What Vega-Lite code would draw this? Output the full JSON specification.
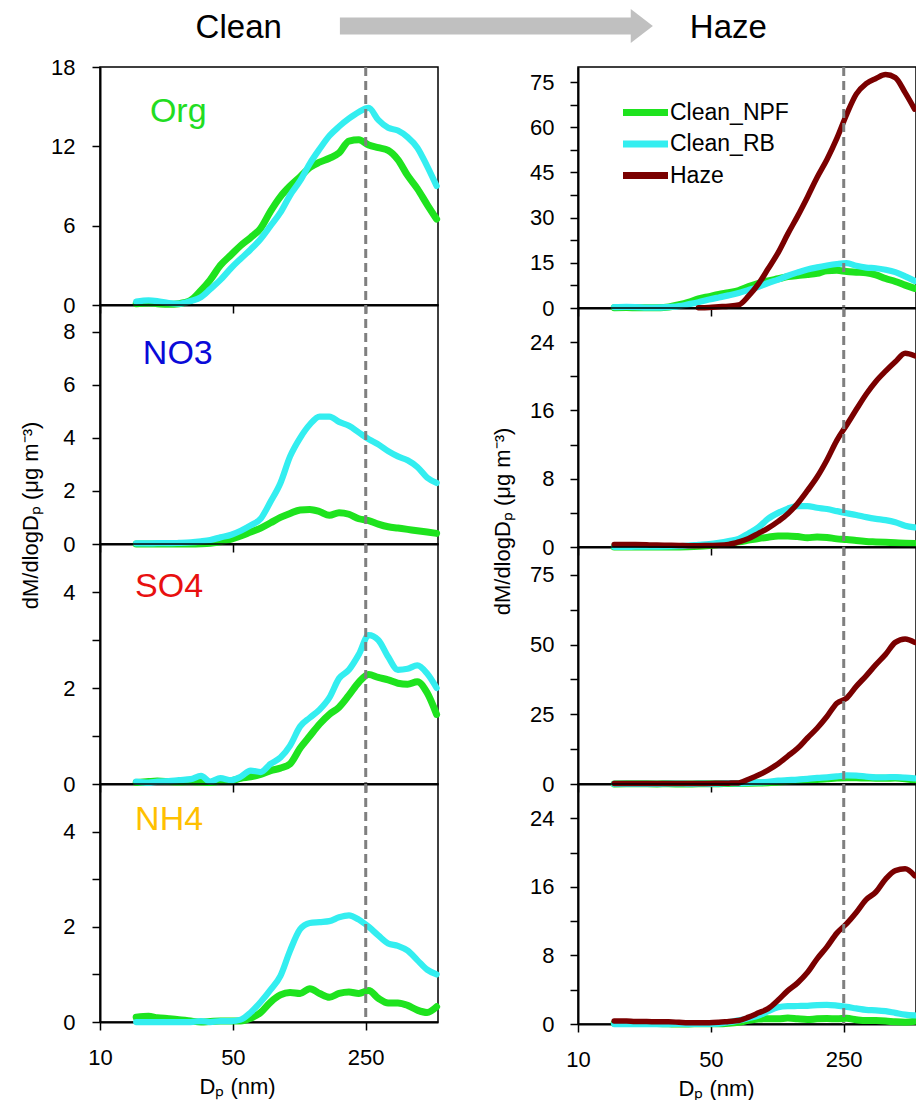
{
  "$schema": "https://vega.github.io/schema/vega-lite/v6.json",
  "padding": {"left": 18, "top": 0, "right": 0, "bottom": 0},
  "config": {
    "font": "Liberation Sans",
    "view": {"stroke": "black", "strokeWidth": 1.5},
    "axis": {"labelFont": "Liberation Sans", "labelFontSize": 22, "labelColor": "black", "labelFlush": false, "titleFont": "Liberation Sans", "titleFontSize": 22, "titleFontWeight": "normal", "titleColor": "black", "domainColor": "black", "domainWidth": 2, "tickColor": "black", "tickWidth": 1.5, "grid": false},
    "axisX": {"tickSize": 8, "labelPadding": 17, "titlePadding": 8},
    "axisY": {"tickSize": 8, "labelPadding": 17},
    "text": {"font": "Liberation Sans"}
  },
  "datasets": {
    "d": [
      {"s":"Org","Dp":15.5,"Clean_NPF":0.1,"Clean_RB":0.25,"Haze":null},
      {"s":"Org","Dp":18,"Clean_NPF":0.15,"Clean_RB":0.35,"Haze":null},
      {"s":"Org","Dp":20,"Clean_NPF":0.1,"Clean_RB":0.3,"Haze":null},
      {"s":"Org","Dp":23,"Clean_NPF":0.05,"Clean_RB":0.15,"Haze":null},
      {"s":"Org","Dp":26,"Clean_NPF":0.1,"Clean_RB":0.1,"Haze":null},
      {"s":"Org","Dp":30,"Clean_NPF":0.35,"Clean_RB":0.3,"Haze":null},
      {"s":"Org","Dp":34,"Clean_NPF":1.1,"Clean_RB":0.6,"Haze":null},
      {"s":"Org","Dp":38,"Clean_NPF":1.9,"Clean_RB":1.2,"Haze":null},
      {"s":"Org","Dp":43,"Clean_NPF":3.0,"Clean_RB":1.9,"Haze":0.1},
      {"s":"Org","Dp":49,"Clean_NPF":3.8,"Clean_RB":2.8,"Haze":0.2},
      {"s":"Org","Dp":55,"Clean_NPF":4.5,"Clean_RB":3.5,"Haze":0.4},
      {"s":"Org","Dp":62,"Clean_NPF":5.1,"Clean_RB":4.2,"Haze":0.6},
      {"s":"Org","Dp":70,"Clean_NPF":5.8,"Clean_RB":5.0,"Haze":1.0},
      {"s":"Org","Dp":79,"Clean_NPF":7.1,"Clean_RB":6.0,"Haze":4.0},
      {"s":"Org","Dp":89,"Clean_NPF":8.2,"Clean_RB":7.0,"Haze":8.0},
      {"s":"Org","Dp":100,"Clean_NPF":9.0,"Clean_RB":8.3,"Haze":13.0},
      {"s":"Org","Dp":113,"Clean_NPF":9.7,"Clean_RB":9.4,"Haze":18.4},
      {"s":"Org","Dp":127,"Clean_NPF":10.4,"Clean_RB":10.7,"Haze":24.6},
      {"s":"Org","Dp":143,"Clean_NPF":10.8,"Clean_RB":11.8,"Haze":30.5},
      {"s":"Org","Dp":161,"Clean_NPF":11.1,"Clean_RB":12.8,"Haze":36.8},
      {"s":"Org","Dp":181,"Clean_NPF":11.5,"Clean_RB":13.5,"Haze":43.3},
      {"s":"Org","Dp":204,"Clean_NPF":12.4,"Clean_RB":14.1,"Haze":49.3},
      {"s":"Org","Dp":230,"Clean_NPF":12.5,"Clean_RB":14.6,"Haze":56.3},
      {"s":"Org","Dp":259,"Clean_NPF":12.1,"Clean_RB":14.9,"Haze":64.3},
      {"s":"Org","Dp":291,"Clean_NPF":11.9,"Clean_RB":14.0,"Haze":71.0},
      {"s":"Org","Dp":328,"Clean_NPF":11.7,"Clean_RB":13.4,"Haze":74.5},
      {"s":"Org","Dp":369,"Clean_NPF":11.0,"Clean_RB":13.2,"Haze":76.2},
      {"s":"Org","Dp":415,"Clean_NPF":9.8,"Clean_RB":12.7,"Haze":77.5},
      {"s":"Org","Dp":467,"Clean_NPF":8.8,"Clean_RB":11.9,"Haze":76.5},
      {"s":"Org","Dp":526,"Clean_NPF":7.6,"Clean_RB":10.5,"Haze":71.5},
      {"s":"Org","Dp":590,"Clean_NPF":6.5,"Clean_RB":9.0,"Haze":66.0},

      {"s":"NO3","Dp":15.5,"Clean_NPF":0,"Clean_RB":0.02,"Haze":0.3},
      {"s":"NO3","Dp":18,"Clean_NPF":0,"Clean_RB":0.02,"Haze":0.3},
      {"s":"NO3","Dp":20,"Clean_NPF":0,"Clean_RB":0.03,"Haze":0.28},
      {"s":"NO3","Dp":23,"Clean_NPF":0,"Clean_RB":0.03,"Haze":0.25},
      {"s":"NO3","Dp":26,"Clean_NPF":0,"Clean_RB":0.04,"Haze":0.22},
      {"s":"NO3","Dp":30,"Clean_NPF":0,"Clean_RB":0.06,"Haze":0.2},
      {"s":"NO3","Dp":34,"Clean_NPF":0.01,"Clean_RB":0.1,"Haze":0.18},
      {"s":"NO3","Dp":38,"Clean_NPF":0.03,"Clean_RB":0.15,"Haze":0.15},
      {"s":"NO3","Dp":43,"Clean_NPF":0.08,"Clean_RB":0.25,"Haze":0.15},
      {"s":"NO3","Dp":49,"Clean_NPF":0.18,"Clean_RB":0.35,"Haze":0.18},
      {"s":"NO3","Dp":55,"Clean_NPF":0.3,"Clean_RB":0.5,"Haze":0.2},
      {"s":"NO3","Dp":62,"Clean_NPF":0.45,"Clean_RB":0.7,"Haze":0.3},
      {"s":"NO3","Dp":70,"Clean_NPF":0.6,"Clean_RB":0.95,"Haze":0.6},
      {"s":"NO3","Dp":79,"Clean_NPF":0.8,"Clean_RB":1.6,"Haze":1.0},
      {"s":"NO3","Dp":89,"Clean_NPF":1.0,"Clean_RB":2.3,"Haze":1.6},
      {"s":"NO3","Dp":100,"Clean_NPF":1.15,"Clean_RB":3.3,"Haze":2.2},
      {"s":"NO3","Dp":113,"Clean_NPF":1.28,"Clean_RB":4.0,"Haze":3.0},
      {"s":"NO3","Dp":127,"Clean_NPF":1.3,"Clean_RB":4.5,"Haze":3.9},
      {"s":"NO3","Dp":143,"Clean_NPF":1.22,"Clean_RB":4.8,"Haze":5.1},
      {"s":"NO3","Dp":161,"Clean_NPF":1.08,"Clean_RB":4.8,"Haze":6.6},
      {"s":"NO3","Dp":181,"Clean_NPF":1.18,"Clean_RB":4.6,"Haze":8.2},
      {"s":"NO3","Dp":204,"Clean_NPF":1.12,"Clean_RB":4.45,"Haze":10.2},
      {"s":"NO3","Dp":230,"Clean_NPF":0.95,"Clean_RB":4.2,"Haze":12.5},
      {"s":"NO3","Dp":259,"Clean_NPF":0.88,"Clean_RB":3.95,"Haze":14.3},
      {"s":"NO3","Dp":291,"Clean_NPF":0.75,"Clean_RB":3.75,"Haze":16.1},
      {"s":"NO3","Dp":328,"Clean_NPF":0.65,"Clean_RB":3.5,"Haze":17.9},
      {"s":"NO3","Dp":369,"Clean_NPF":0.6,"Clean_RB":3.3,"Haze":19.4},
      {"s":"NO3","Dp":415,"Clean_NPF":0.55,"Clean_RB":3.15,"Haze":20.6},
      {"s":"NO3","Dp":467,"Clean_NPF":0.5,"Clean_RB":2.9,"Haze":21.7},
      {"s":"NO3","Dp":526,"Clean_NPF":0.45,"Clean_RB":2.5,"Haze":22.7},
      {"s":"NO3","Dp":590,"Clean_NPF":0.4,"Clean_RB":2.3,"Haze":22.4},

      {"s":"SO4","Dp":15.5,"Clean_NPF":0.03,"Clean_RB":0.05,"Haze":0.2},
      {"s":"SO4","Dp":18,"Clean_NPF":0.05,"Clean_RB":0.03,"Haze":0.2},
      {"s":"SO4","Dp":20,"Clean_NPF":0.06,"Clean_RB":0.05,"Haze":0.2},
      {"s":"SO4","Dp":23,"Clean_NPF":0.05,"Clean_RB":0.06,"Haze":0.15},
      {"s":"SO4","Dp":26,"Clean_NPF":0.04,"Clean_RB":0.08,"Haze":0.15},
      {"s":"SO4","Dp":30,"Clean_NPF":0.05,"Clean_RB":0.1,"Haze":0.15},
      {"s":"SO4","Dp":34,"Clean_NPF":0.04,"Clean_RB":0.17,"Haze":0.15},
      {"s":"SO4","Dp":38,"Clean_NPF":0.03,"Clean_RB":0.05,"Haze":0.15},
      {"s":"SO4","Dp":43,"Clean_NPF":0.06,"Clean_RB":0.12,"Haze":0.2},
      {"s":"SO4","Dp":49,"Clean_NPF":0.07,"Clean_RB":0.08,"Haze":0.2},
      {"s":"SO4","Dp":55,"Clean_NPF":0.12,"Clean_RB":0.15,"Haze":0.25},
      {"s":"SO4","Dp":62,"Clean_NPF":0.15,"Clean_RB":0.28,"Haze":0.3},
      {"s":"SO4","Dp":70,"Clean_NPF":0.2,"Clean_RB":0.25,"Haze":0.4},
      {"s":"SO4","Dp":79,"Clean_NPF":0.28,"Clean_RB":0.42,"Haze":1.7},
      {"s":"SO4","Dp":89,"Clean_NPF":0.33,"Clean_RB":0.55,"Haze":3.2},
      {"s":"SO4","Dp":100,"Clean_NPF":0.42,"Clean_RB":0.8,"Haze":5.0},
      {"s":"SO4","Dp":113,"Clean_NPF":0.75,"Clean_RB":1.2,"Haze":7.3},
      {"s":"SO4","Dp":127,"Clean_NPF":1.0,"Clean_RB":1.38,"Haze":10.0},
      {"s":"SO4","Dp":143,"Clean_NPF":1.25,"Clean_RB":1.55,"Haze":12.8},
      {"s":"SO4","Dp":161,"Clean_NPF":1.45,"Clean_RB":1.8,"Haze":16.5},
      {"s":"SO4","Dp":181,"Clean_NPF":1.6,"Clean_RB":2.2,"Haze":20.0},
      {"s":"SO4","Dp":204,"Clean_NPF":1.85,"Clean_RB":2.38,"Haze":24.2},
      {"s":"SO4","Dp":230,"Clean_NPF":2.12,"Clean_RB":2.7,"Haze":29.0},
      {"s":"SO4","Dp":259,"Clean_NPF":2.28,"Clean_RB":3.1,"Haze":30.8},
      {"s":"SO4","Dp":291,"Clean_NPF":2.22,"Clean_RB":3.0,"Haze":35.0},
      {"s":"SO4","Dp":328,"Clean_NPF":2.17,"Clean_RB":2.65,"Haze":38.8},
      {"s":"SO4","Dp":369,"Clean_NPF":2.1,"Clean_RB":2.38,"Haze":42.8},
      {"s":"SO4","Dp":415,"Clean_NPF":2.08,"Clean_RB":2.4,"Haze":46.5},
      {"s":"SO4","Dp":467,"Clean_NPF":2.13,"Clean_RB":2.47,"Haze":50.8},
      {"s":"SO4","Dp":526,"Clean_NPF":1.9,"Clean_RB":2.3,"Haze":52.0},
      {"s":"SO4","Dp":590,"Clean_NPF":1.45,"Clean_RB":2.0,"Haze":50.8},

      {"s":"NH4","Dp":15.5,"Clean_NPF":0.1,"Clean_RB":0,"Haze":0.35},
      {"s":"NH4","Dp":18,"Clean_NPF":0.12,"Clean_RB":0,"Haze":0.35},
      {"s":"NH4","Dp":20,"Clean_NPF":0.09,"Clean_RB":0,"Haze":0.3},
      {"s":"NH4","Dp":23,"Clean_NPF":0.07,"Clean_RB":0,"Haze":0.3},
      {"s":"NH4","Dp":26,"Clean_NPF":0.05,"Clean_RB":0,"Haze":0.25},
      {"s":"NH4","Dp":30,"Clean_NPF":0.02,"Clean_RB":0,"Haze":0.25},
      {"s":"NH4","Dp":34,"Clean_NPF":0.0,"Clean_RB":0.02,"Haze":0.2},
      {"s":"NH4","Dp":38,"Clean_NPF":0.01,"Clean_RB":0,"Haze":0.15},
      {"s":"NH4","Dp":43,"Clean_NPF":0.02,"Clean_RB":0.02,"Haze":0.15},
      {"s":"NH4","Dp":49,"Clean_NPF":0.02,"Clean_RB":0.02,"Haze":0.15},
      {"s":"NH4","Dp":55,"Clean_NPF":0.02,"Clean_RB":0.05,"Haze":0.2},
      {"s":"NH4","Dp":62,"Clean_NPF":0.08,"Clean_RB":0.2,"Haze":0.3},
      {"s":"NH4","Dp":70,"Clean_NPF":0.2,"Clean_RB":0.42,"Haze":0.4},
      {"s":"NH4","Dp":79,"Clean_NPF":0.42,"Clean_RB":0.68,"Haze":0.8},
      {"s":"NH4","Dp":89,"Clean_NPF":0.57,"Clean_RB":0.97,"Haze":1.3},
      {"s":"NH4","Dp":100,"Clean_NPF":0.62,"Clean_RB":1.5,"Haze":1.8},
      {"s":"NH4","Dp":113,"Clean_NPF":0.6,"Clean_RB":1.95,"Haze":2.8},
      {"s":"NH4","Dp":127,"Clean_NPF":0.7,"Clean_RB":2.08,"Haze":3.9},
      {"s":"NH4","Dp":143,"Clean_NPF":0.6,"Clean_RB":2.1,"Haze":4.8},
      {"s":"NH4","Dp":161,"Clean_NPF":0.52,"Clean_RB":2.12,"Haze":6.0},
      {"s":"NH4","Dp":181,"Clean_NPF":0.6,"Clean_RB":2.2,"Haze":7.6},
      {"s":"NH4","Dp":204,"Clean_NPF":0.63,"Clean_RB":2.24,"Haze":9.0},
      {"s":"NH4","Dp":230,"Clean_NPF":0.6,"Clean_RB":2.15,"Haze":10.6},
      {"s":"NH4","Dp":259,"Clean_NPF":0.66,"Clean_RB":2.0,"Haze":11.7},
      {"s":"NH4","Dp":291,"Clean_NPF":0.5,"Clean_RB":1.82,"Haze":13.0},
      {"s":"NH4","Dp":328,"Clean_NPF":0.4,"Clean_RB":1.65,"Haze":14.5},
      {"s":"NH4","Dp":369,"Clean_NPF":0.4,"Clean_RB":1.6,"Haze":15.4},
      {"s":"NH4","Dp":415,"Clean_NPF":0.35,"Clean_RB":1.5,"Haze":16.9},
      {"s":"NH4","Dp":467,"Clean_NPF":0.25,"Clean_RB":1.3,"Haze":17.9},
      {"s":"NH4","Dp":526,"Clean_NPF":0.2,"Clean_RB":1.1,"Haze":18.1},
      {"s":"NH4","Dp":590,"Clean_NPF":0.32,"Clean_RB":1.0,"Haze":17.3}
    ]
  },
  "bounds": "flush",
  "spacing": 17,
  "resolve": {"legend": {"color": "independent"}},
  "vconcat": [
    {
      "width": 816, "height": 50,
      "view": {"stroke": null},
      "data": {"values": [{}]},
      "layer": [
        {"mark": {"type": "rule", "color": "#c0c0c0", "strokeWidth": 17, "strokeCap": "butt"},
         "encoding": {"x": {"datum": 0.294, "type": "quantitative", "scale": {"domain": [0, 1]}, "axis": null}, "x2": {"datum": 0.653}, "y": {"datum": 0.48, "type": "quantitative", "scale": {"domain": [0, 1]}, "axis": null}}},
        {"mark": {"type": "point", "shape": "M-0.65,-1L0.65,0L-0.65,1Z", "filled": true, "color": "#c0c0c0", "opacity": 1, "size": 1156},
         "encoding": {"x": {"datum": 0.664, "type": "quantitative"}, "y": {"datum": 0.48, "type": "quantitative"}}},
        {"mark": {"type": "text", "text": "Clean", "fontSize": 33, "align": "center", "baseline": "alphabetic", "color": "black"},
         "encoding": {"x": {"datum": 0.170, "type": "quantitative"}, "y": {"datum": 0.24, "type": "quantitative"}}},
        {"mark": {"type": "text", "text": "Haze", "fontSize": 33, "align": "center", "baseline": "alphabetic", "color": "black"},
         "encoding": {"x": {"datum": 0.770, "type": "quantitative"}, "y": {"datum": 0.24, "type": "quantitative"}}}
      ]
    },
    {
      "bounds": "full",
      "spacing": 49,
      "resolve": {"legend": {"color": "independent"}},
      "hconcat": [
        {
          "bounds": "flush",
          "spacing": 0,
          "resolve": {"legend": {"color": "independent"}},
          "vconcat": [
            {
              "width": 338, "height": 238,
              "layer": [
                {"data": {"name": "d"},
                 "transform": [{"filter": "datum.s === 'Org'"}, {"fold": ["Clean_NPF", "Clean_RB"], "as": ["g", "v"]}, {"filter": "isValid(datum.v)"}],
                 "mark": {"type": "line", "interpolate": "monotone", "strokeCap": "round", "strokeJoin": "round"},
                 "encoding": {
                   "x": {"field": "Dp", "type": "quantitative", "scale": {"type": "log", "domain": [10, 600], "nice": false}, "axis": {"values": [10, 50, 250], "labels": false, "title": null}},
                   "y": {"field": "v", "type": "quantitative", "scale": {"domain": [0, 18], "nice": false}, "axis": {"values": [0, 3, 6, 9, 12, 15, 18], "labelExpr": "datum.value % 6 === 0 ? datum.label : ''", "title": null, "encode": {"ticks": {"x": {"value": {"expr": "datum.value % 6 === 0 ? -8 : 0"}}, "x2": {"value": 6}}}}},
                   "color": {"field": "g", "type": "nominal", "scale": {"domain": ["Clean_NPF", "Clean_RB", "Haze"], "range": ["#1ee31e", "#33eef0", "#7a0000"]}, "legend": null},
                   "strokeWidth": {"field": "g", "type": "nominal", "scale": {"domain": ["Clean_NPF", "Clean_RB", "Haze"], "range": [7, 5.5, 7]}, "legend": null}
                 }},
                {"data": {"values": [{}]}, "mark": {"type": "rule", "strokeDash": [9, 5], "color": "#7f7f7f", "strokeWidth": 3}, "encoding": {"x": {"datum": 250, "type": "quantitative"}}},
                {"data": {"values": [{}]}, "mark": {"type": "text", "text": "Org", "fontSize": 34, "align": "left", "baseline": "alphabetic", "color": "#22dd22"}, "encoding": {"x": {"datum": 18.3, "type": "quantitative"}, "y": {"datum": 13.84, "type": "quantitative"}}}
              ]
            },
            {
              "width": 338, "height": 239,
              "layer": [
                {"data": {"name": "d"},
                 "transform": [{"filter": "datum.s === 'NO3'"}, {"fold": ["Clean_NPF", "Clean_RB"], "as": ["g", "v"]}, {"filter": "isValid(datum.v)"}],
                 "mark": {"type": "line", "interpolate": "monotone", "strokeCap": "round", "strokeJoin": "round"},
                 "encoding": {
                   "x": {"field": "Dp", "type": "quantitative", "scale": {"type": "log", "domain": [10, 600], "nice": false}, "axis": {"values": [10, 50, 250], "labels": false, "title": null}},
                   "y": {"field": "v", "type": "quantitative", "scale": {"domain": [0, 9], "nice": false}, "axis": {"values": [0, 1, 2, 3, 4, 5, 6, 7, 8], "labelExpr": "datum.value % 2 === 0 ? datum.label : ''", "title": "dM/dlogDₚ (μg m⁻³)", "titleX": -58, "titleY": 210, "titleAngle": -90, "titleBaseline": "bottom", "titleAlign": "center", "encode": {"ticks": {"x": {"value": {"expr": "datum.value % 2 === 0 ? -8 : 0"}}, "x2": {"value": 6}}}}},
                   "color": {"field": "g", "type": "nominal", "scale": {"domain": ["Clean_NPF", "Clean_RB", "Haze"], "range": ["#1ee31e", "#33eef0", "#7a0000"]}, "legend": null},
                   "strokeWidth": {"field": "g", "type": "nominal", "scale": {"domain": ["Clean_NPF", "Clean_RB", "Haze"], "range": [7, 5.5, 7]}, "legend": null}
                 }},
                {"data": {"values": [{}]}, "mark": {"type": "rule", "strokeDash": [9, 5], "color": "#7f7f7f", "strokeWidth": 3}, "encoding": {"x": {"datum": 250, "type": "quantitative"}}},
                {"data": {"values": [{}]}, "mark": {"type": "text", "text": "NO3", "fontSize": 34, "align": "left", "baseline": "alphabetic", "color": "#0a0ad8"}, "encoding": {"x": {"datum": 16.8, "type": "quantitative"}, "y": {"datum": 6.78, "type": "quantitative"}}}
              ]
            },
            {
              "width": 338, "height": 240,
              "layer": [
                {"data": {"name": "d"},
                 "transform": [{"filter": "datum.s === 'SO4'"}, {"fold": ["Clean_NPF", "Clean_RB"], "as": ["g", "v"]}, {"filter": "isValid(datum.v)"}],
                 "mark": {"type": "line", "interpolate": "monotone", "strokeCap": "round", "strokeJoin": "round"},
                 "encoding": {
                   "x": {"field": "Dp", "type": "quantitative", "scale": {"type": "log", "domain": [10, 600], "nice": false}, "axis": {"values": [10, 50, 250], "labels": false, "title": null}},
                   "y": {"field": "v", "type": "quantitative", "scale": {"domain": [0, 5], "nice": false}, "axis": {"values": [0, 1, 2, 3, 4], "labelExpr": "datum.value % 2 === 0 ? datum.label : ''", "title": null, "encode": {"ticks": {"x": {"value": {"expr": "datum.value % 2 === 0 ? -8 : 0"}}, "x2": {"value": 6}}}}},
                   "color": {"field": "g", "type": "nominal", "scale": {"domain": ["Clean_NPF", "Clean_RB", "Haze"], "range": ["#1ee31e", "#33eef0", "#7a0000"]}, "legend": null},
                   "strokeWidth": {"field": "g", "type": "nominal", "scale": {"domain": ["Clean_NPF", "Clean_RB", "Haze"], "range": [7, 5.5, 7]}, "legend": null}
                 }},
                {"data": {"values": [{}]}, "mark": {"type": "rule", "strokeDash": [9, 5], "color": "#7f7f7f", "strokeWidth": 3}, "encoding": {"x": {"datum": 250, "type": "quantitative"}}},
                {"data": {"values": [{}]}, "mark": {"type": "text", "text": "SO4", "fontSize": 34, "align": "left", "baseline": "alphabetic", "color": "#e81010"}, "encoding": {"x": {"datum": 15.3, "type": "quantitative"}, "y": {"datum": 3.9, "type": "quantitative"}}}
              ]
            },
            {
              "width": 338, "height": 238,
              "layer": [
                {"data": {"name": "d"},
                 "transform": [{"filter": "datum.s === 'NH4'"}, {"fold": ["Clean_NPF", "Clean_RB"], "as": ["g", "v"]}, {"filter": "isValid(datum.v)"}],
                 "mark": {"type": "line", "interpolate": "monotone", "strokeCap": "round", "strokeJoin": "round"},
                 "encoding": {
                   "x": {"field": "Dp", "type": "quantitative", "scale": {"type": "log", "domain": [10, 600], "nice": false}, "axis": {"values": [10, 50, 250], "title": "Dₚ (nm)", "titleX": 137}},
                   "y": {"field": "v", "type": "quantitative", "scale": {"domain": [0, 5], "nice": false}, "axis": {"values": [0, 1, 2, 3, 4], "labelExpr": "datum.value % 2 === 0 ? datum.label : ''", "title": null, "encode": {"ticks": {"x": {"value": {"expr": "datum.value % 2 === 0 ? -8 : 0"}}, "x2": {"value": 6}}}}},
                   "color": {"field": "g", "type": "nominal", "scale": {"domain": ["Clean_NPF", "Clean_RB", "Haze"], "range": ["#1ee31e", "#33eef0", "#7a0000"]}, "legend": null},
                   "strokeWidth": {"field": "g", "type": "nominal", "scale": {"domain": ["Clean_NPF", "Clean_RB", "Haze"], "range": [7, 5.5, 7]}, "legend": null}
                 }},
                {"data": {"values": [{}]}, "mark": {"type": "rule", "strokeDash": [9, 5], "color": "#7f7f7f", "strokeWidth": 3}, "encoding": {"x": {"datum": 250, "type": "quantitative"}}},
                {"data": {"values": [{}]}, "mark": {"type": "text", "text": "NH4", "fontSize": 34, "align": "left", "baseline": "alphabetic", "color": "#ffc000"}, "encoding": {"x": {"datum": 15.3, "type": "quantitative"}, "y": {"datum": 4.03, "type": "quantitative"}}}
              ]
            }
          ]
        },
        {
          "bounds": "flush",
          "spacing": 0,
          "resolve": {"legend": {"color": "independent"}},
          "vconcat": [
            {
              "width": 338, "height": 241,
              "layer": [
                {"data": {"name": "d"},
                 "transform": [{"filter": "datum.s === 'Org'"}, {"fold": ["Clean_NPF", "Clean_RB", "Haze"], "as": ["g", "v"]}, {"filter": "isValid(datum.v)"}],
                 "mark": {"type": "line", "interpolate": "monotone", "strokeCap": "round", "strokeJoin": "round"},
                 "encoding": {
                   "x": {"field": "Dp", "type": "quantitative", "scale": {"type": "log", "domain": [10, 600], "nice": false}, "axis": {"values": [10, 50, 250], "labels": false, "title": null}},
                   "y": {"field": "v", "type": "quantitative", "scale": {"domain": [0, 80], "nice": false}, "axis": {"values": [0, 7.5, 15, 22.5, 30, 37.5, 45, 52.5, 60, 67.5, 75], "labelPadding": 16, "labelExpr": "datum.value % 15 === 0 ? datum.label : ''", "title": null, "encode": {"ticks": {"x": {"value": {"expr": "datum.value % 15 === 0 ? -8 : 0"}}, "x2": {"value": 6}}}}},
                   "color": {"field": "g", "type": "nominal", "scale": {"domain": ["Clean_NPF", "Clean_RB", "Haze"], "range": ["#1ee31e", "#33eef0", "#7a0000"]},
                     "legend": {"orient": "none", "legendX": 55, "legendY": 33, "title": null, "symbolType": "M-2.5,0L2.5,0", "symbolSize": 324, "symbolStrokeWidth": 7, "symbolFillColor": "transparent", "labelFontSize": 23, "labelFont": "Liberation Sans", "labelColor": "black", "labelOffset": 12, "rowPadding": 2.5, "padding": 0}},
                   "strokeWidth": {"field": "g", "type": "nominal", "scale": {"domain": ["Clean_NPF", "Clean_RB", "Haze"], "range": [7, 5.5, 7]}, "legend": null}
                 }},
                {"data": {"values": [{}]}, "mark": {"type": "rule", "strokeDash": [9, 5], "color": "#7f7f7f", "strokeWidth": 3}, "encoding": {"x": {"datum": 250, "type": "quantitative"}}}
              ]
            },
            {
              "width": 338, "height": 239,
              "layer": [
                {"data": {"name": "d"},
                 "transform": [{"filter": "datum.s === 'NO3'"}, {"fold": ["Clean_NPF", "Clean_RB", "Haze"], "as": ["g", "v"]}, {"filter": "isValid(datum.v)"}],
                 "mark": {"type": "line", "interpolate": "monotone", "strokeCap": "round", "strokeJoin": "round"},
                 "encoding": {
                   "x": {"field": "Dp", "type": "quantitative", "scale": {"type": "log", "domain": [10, 600], "nice": false}, "axis": {"values": [10, 50, 250], "labels": false, "title": null}},
                   "y": {"field": "v", "type": "quantitative", "scale": {"domain": [0, 28], "nice": false}, "axis": {"values": [0, 4, 8, 12, 16, 20, 24], "labelPadding": 16, "labelExpr": "datum.value % 8 === 0 ? datum.label : ''", "title": "dM/dlogDₚ (μg m⁻³)", "titleX": -64, "titleY": 213, "titleAngle": -90, "titleBaseline": "bottom", "titleAlign": "center", "encode": {"ticks": {"x": {"value": {"expr": "datum.value % 8 === 0 ? -8 : 0"}}, "x2": {"value": 6}}}}},
                   "color": {"field": "g", "type": "nominal", "scale": {"domain": ["Clean_NPF", "Clean_RB", "Haze"], "range": ["#1ee31e", "#33eef0", "#7a0000"]}, "legend": null},
                   "strokeWidth": {"field": "g", "type": "nominal", "scale": {"domain": ["Clean_NPF", "Clean_RB", "Haze"], "range": [7, 5.5, 7]}, "legend": null}
                 }},
                {"data": {"values": [{}]}, "mark": {"type": "rule", "strokeDash": [9, 5], "color": "#7f7f7f", "strokeWidth": 3}, "encoding": {"x": {"datum": 250, "type": "quantitative"}}}
              ]
            },
            {
              "width": 338, "height": 237,
              "layer": [
                {"data": {"name": "d"},
                 "transform": [{"filter": "datum.s === 'SO4'"}, {"fold": ["Clean_NPF", "Clean_RB", "Haze"], "as": ["g", "v"]}, {"filter": "isValid(datum.v)"}],
                 "mark": {"type": "line", "interpolate": "monotone", "strokeCap": "round", "strokeJoin": "round"},
                 "encoding": {
                   "x": {"field": "Dp", "type": "quantitative", "scale": {"type": "log", "domain": [10, 600], "nice": false}, "axis": {"values": [10, 50, 250], "labels": false, "title": null}},
                   "y": {"field": "v", "type": "quantitative", "scale": {"domain": [0, 85], "nice": false}, "axis": {"values": [0, 12.5, 25, 37.5, 50, 62.5, 75], "labelPadding": 16, "labelExpr": "datum.value % 25 === 0 ? datum.label : ''", "title": null, "encode": {"ticks": {"x": {"value": {"expr": "datum.value % 25 === 0 ? -8 : 0"}}, "x2": {"value": 6}}}}},
                   "color": {"field": "g", "type": "nominal", "scale": {"domain": ["Clean_NPF", "Clean_RB", "Haze"], "range": ["#1ee31e", "#33eef0", "#7a0000"]}, "legend": null},
                   "strokeWidth": {"field": "g", "type": "nominal", "scale": {"domain": ["Clean_NPF", "Clean_RB", "Haze"], "range": [7, 5.5, 7]}, "legend": null}
                 }},
                {"data": {"values": [{}]}, "mark": {"type": "rule", "strokeDash": [9, 5], "color": "#7f7f7f", "strokeWidth": 3}, "encoding": {"x": {"datum": 250, "type": "quantitative"}}}
              ]
            },
            {
              "width": 338, "height": 240,
              "layer": [
                {"data": {"name": "d"},
                 "transform": [{"filter": "datum.s === 'NH4'"}, {"fold": ["Clean_NPF", "Clean_RB", "Haze"], "as": ["g", "v"]}, {"filter": "isValid(datum.v)"}],
                 "mark": {"type": "line", "interpolate": "monotone", "strokeCap": "round", "strokeJoin": "round"},
                 "encoding": {
                   "x": {"field": "Dp", "type": "quantitative", "scale": {"type": "log", "domain": [10, 600], "nice": false}, "axis": {"values": [10, 50, 250], "title": "Dₚ (nm)", "titleX": 138}},
                   "y": {"field": "v", "type": "quantitative", "scale": {"domain": [0, 28], "nice": false}, "axis": {"values": [0, 4, 8, 12, 16, 20, 24], "labelPadding": 16, "labelExpr": "datum.value % 8 === 0 ? datum.label : ''", "title": null, "encode": {"ticks": {"x": {"value": {"expr": "datum.value % 8 === 0 ? -8 : 0"}}, "x2": {"value": 6}}}}},
                   "color": {"field": "g", "type": "nominal", "scale": {"domain": ["Clean_NPF", "Clean_RB", "Haze"], "range": ["#1ee31e", "#33eef0", "#7a0000"]}, "legend": null},
                   "strokeWidth": {"field": "g", "type": "nominal", "scale": {"domain": ["Clean_NPF", "Clean_RB", "Haze"], "range": [7, 5.5, 7]}, "legend": null}
                 }},
                {"data": {"values": [{}]}, "mark": {"type": "rule", "strokeDash": [9, 5], "color": "#7f7f7f", "strokeWidth": 3}, "encoding": {"x": {"datum": 250, "type": "quantitative"}}}
              ]
            }
          ]
        }
      ]
    }
  ]
}
